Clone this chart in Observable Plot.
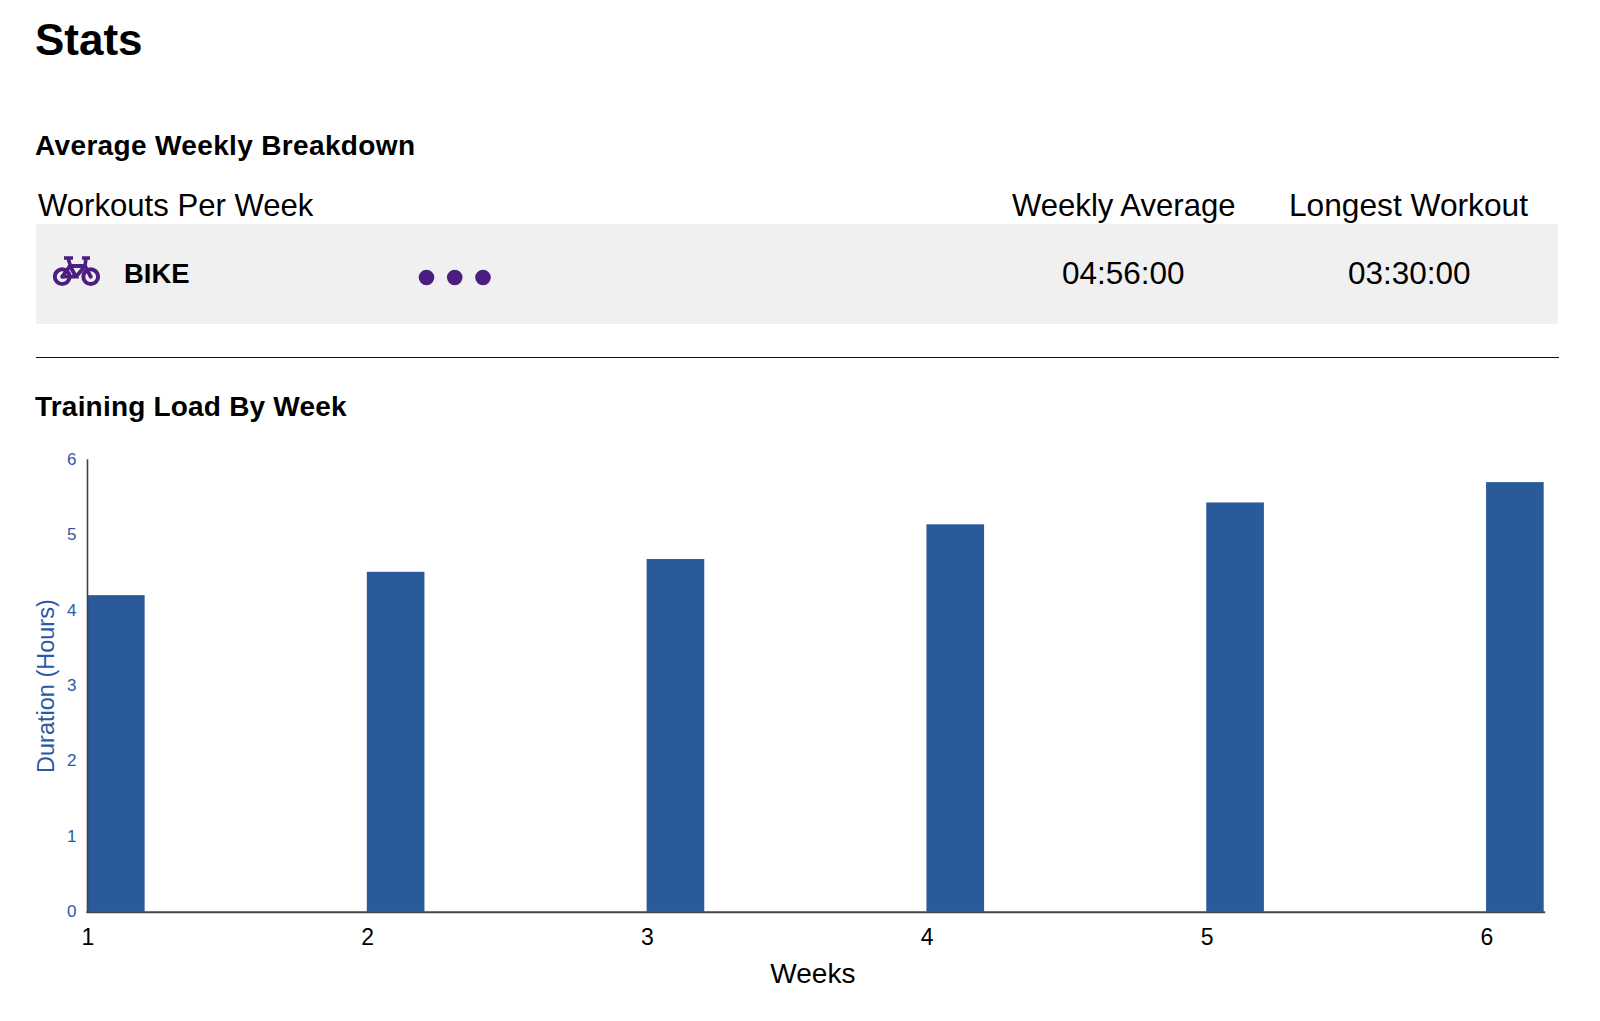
<!DOCTYPE html>
<html>
<head>
<meta charset="utf-8">
<script src="https://cdn.jsdelivr.net/npm/d3@7"></script>
<script src="https://cdn.jsdelivr.net/npm/@observablehq/plot@0.6"></script>
<style>
html,body{margin:0;padding:0;background:#fff;}
body{position:relative;width:1600px;height:1021px;overflow:hidden;font-family:"Liberation Sans",Arial,sans-serif;color:#000;}
.t{position:absolute;white-space:nowrap;line-height:1;}
h1,h2{margin:0;font-weight:700;}
#rowbg{position:absolute;left:36px;top:224px;width:1522px;height:100px;background:#f0f0f0;}
#hr{position:absolute;left:36px;top:357px;width:1523px;height:1px;background:#111;}
#icon{position:absolute;left:52px;top:255px;}
#dots{position:absolute;left:400px;top:257px;}
#chart{position:absolute;left:0;top:440px;}
[aria-label="y-axis tick label"]{font-size:17px;}
[aria-label="x-axis tick label"]{font-size:23px;}
</style>
</head>
<body>
<h1 class="t" style="left:35px;top:18px;font-size:44px;">Stats</h1>
<h2 class="t" style="left:35px;top:132px;font-size:28px;letter-spacing:.35px;">Average Weekly Breakdown</h2>
<div class="t" style="left:38px;top:190px;font-size:31.1px;">Workouts Per Week</div>
<div class="t" style="left:1012px;top:190px;font-size:31.1px;">Weekly Average</div>
<div class="t" style="left:1289px;top:190px;font-size:31.7px;">Longest Workout</div>
<div id="rowbg"></div>
<svg id="icon" width="50" height="32" viewBox="0 0 50 32" fill="none" stroke="#4d1e82" aria-hidden="true">
  <circle cx="10.2" cy="21.7" r="7.4" stroke-width="4"/>
  <circle cx="38.7" cy="21.7" r="7.4" stroke-width="4"/>
  <circle cx="10.2" cy="21.7" r="2" fill="#4d1e82" stroke="none"/>
  <circle cx="38.7" cy="21.7" r="2" fill="#4d1e82" stroke="none"/>
  <path d="M10.2 21.7 L18 11 L33 11 L38.7 21.7 M18 11 L24 21.7 L10.2 21.7 M24 21.7 L33 11" stroke-width="3.8"/>
  <path d="M12 3 H21 M30 3 H38 M16 3 L18.5 11 M34 3 L33 11" stroke-width="3.6"/>
</svg>
<div class="t" style="left:124px;top:260px;font-size:27.4px;font-weight:700;">BIKE</div>
<div id="dots"></div>
<div class="t" style="left:1062px;top:258px;font-size:31.5px;">04:56:00</div>
<div class="t" style="left:1348px;top:258px;font-size:31.5px;">03:30:00</div>
<div id="hr"></div>
<h2 class="t" style="left:35px;top:393px;font-size:28px;letter-spacing:.2px;">Training Load By Week</h2>
<div id="chart"></div>
<script>
const workouts = [1, 2, 3];
const weeks = ["1", "2", "3", "4", "5", "6"];
const hours = [4.2, 4.51, 4.68, 5.14, 5.43, 5.7];
const yTicks = [0, 1, 2, 3, 4, 5, 6];
const yTitle = "Duration (Hours)";
const xTitle = "Weeks";

const table = weeks.map((week, i) => ({week, hours: hours[i]}));
const blue = "#2b5a9b";
const axisBlue = "#2a5aa5";

document.getElementById("dots").append(Plot.plot({
  width: 100, height: 40,
  marginLeft: 26, marginRight: 17.5, marginTop: 20, marginBottom: 20,
  style: {background: "transparent"},
  x: {domain: [1, 3], axis: null},
  y: {axis: null, domain: [0, 1]},
  marks: [Plot.dot(workouts, {x: d => d, y: () => 0.5, r: 7.8, fill: "#4d1e82", stroke: null})]
}));

document.getElementById("chart").append(Plot.plot({
  width: 1600, height: 560,
  marginLeft: 87, marginRight: 56.3, marginTop: 19.5, marginBottom: 88.3,
  style: {background: "transparent", fontFamily: "'Liberation Sans', Arial, sans-serif"},
  x: {type: "band", domain: weeks, paddingInner: 0.794, paddingOuter: 0, align: 0, round: false, label: null},
  y: {domain: [0, 6], label: null},
  marks: [
    Plot.barY(table, {x: "week", y: "hours", fill: blue}),
    Plot.frame({anchor: "left", stroke: "#444", strokeWidth: 1.6}),
    Plot.frame({anchor: "bottom", stroke: "#444", strokeWidth: 2}),
    Plot.axisY({ticks: yTicks, tickFormat: d => String(d), tickSize: 0, tickPadding: 11, dy: -0.5, color: axisBlue, label: null}),
    Plot.axisX({tickSize: 0, tickPadding: 16, dx: -28.5, color: "#000", label: null}),
    Plot.text([yTitle], {frameAnchor: "left", textAnchor: "middle", rotate: -90, dx: -41, fontSize: 23.5, fill: axisBlue}),
    Plot.text([xTitle], {frameAnchor: "bottom", dx: -3, dy: 70.5, fontSize: 28, fill: "#000"})
  ]
}));
</script>
</body>
</html>
